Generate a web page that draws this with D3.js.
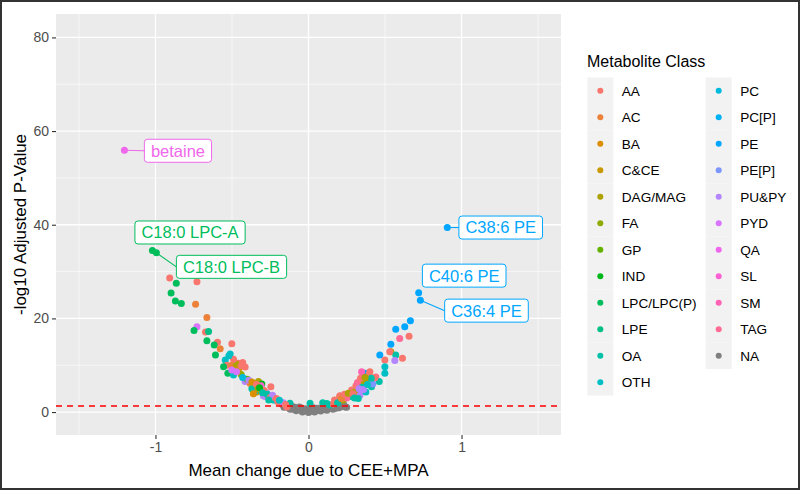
<!DOCTYPE html>
<html><head><meta charset="utf-8">
<script src="https://cdn.jsdelivr.net/npm/d3@7"></script>
<style>
body{margin:0;background:#fff}
text{font-family:"Liberation Sans",Arial,Helvetica,sans-serif}
</style>
</head><body>
<svg id="chart" width="800" height="490"></svg>
<script>
// ---------------- data ----------------
const classNames = ["AA","AC","BA","C&CE","DAG/MAG","FA","GP","IND","LPC/LPC(P)","LPE","OA","OTH",
  "PC","PC[P]","PE","PE[P]","PU&PY","PYD","QA","SL","SM","TAG","NA"];

const xTicks = [-1, 0, 1];
const yTicks = [0, 20, 40, 60, 80];
const significanceLine = 1.3; // -log10(0.05)

// unclassified (NA) metabolites near zero
const naPoints = [
  [-0.17,1.6],[-0.15,1.3],[-0.14,1.5],[-0.12,1.1],[-0.11,1.3],[-0.10,0.9],[-0.09,1.0],[-0.08,0.8],
  [-0.07,0.6],[-0.06,0.7],[-0.05,0.5],[-0.04,0.4],[-0.03,0.3],[-0.02,0.35],[-0.01,0.2],[0.00,0.15],
  [0.01,0.25],[0.02,0.3],[0.03,0.2],[0.04,0.4],[0.05,0.35],[0.06,0.5],[0.07,0.45],[0.08,0.6],
  [0.09,0.55],[0.10,0.7],[0.11,0.65],[0.12,0.8],[0.13,0.75],[0.14,0.9],[0.15,1.0],[0.16,0.95],
  [0.17,1.1],[0.18,1.2],[0.19,1.15],[0.20,1.3],[0.21,1.4],[0.22,1.2],[0.24,1.1],[0.249,1.0],
  [-0.13,0.9],[-0.05,0.9],[0.00,0.6],[0.05,0.8],[0.10,1.1],[-0.10,0.6],[0.03,0.9],[-0.02,0.7],
  [-0.16,1.0],[-0.12,0.6],[-0.08,0.3],[-0.04,0.0],[0.00,-0.1],[0.04,0.0],[0.08,0.2],[0.12,0.4],
  [0.16,0.6],[0.20,0.9],[0.23,1.6],[-0.06,1.1],[0.02,0.55],[0.07,0.8],[0.13,1.2],[0.18,0.8]
];

// classified metabolites: [mean change, -log10 adj p, class]
const metabolites = [
  [-0.907,28.6,"AA"],[-0.864,27.5,"LPC/LPC(P)"],[-0.729,27.8,"AA"],[-0.898,25.4,"LPC/LPC(P)"],
  [-0.870,23.7,"LPC/LPC(P)"],[-0.831,23.2,"LPC/LPC(P)"],[-0.738,23.0,"AC"],[-0.664,20.2,"AC"],
  [-0.729,18.2,"PYD"],[-0.748,17.4,"LPC/LPC(P)"],[-0.673,17.1,"AA"],[-0.653,17.2,"LPE"],
  [-0.664,15.2,"LPC/LPC(P)"],[-0.595,14.9,"AA"],[-0.616,14.3,"LPC/LPC(P)"],[-0.577,13.5,"AC"],
  [-0.501,14.6,"AA"],[-0.608,12.2,"LPC/LPC(P)"],[-0.512,12.4,"OTH"],[-0.544,11.1,"OTH"],
  [-0.533,10.0,"AA"],[-0.501,10.0,"AC"],[-0.468,9.6,"C&CE"],[-0.480,9.2,"C&CE"],
  [-0.414,9.6,"AA"],[-0.458,10.4,"AA"],[-0.555,9.7,"LPC/LPC(P)"],[-0.527,8.3,"LPC/LPC(P)"],
  [-0.490,7.9,"OTH"],[-0.501,9.0,"PYD"],[-0.414,6.5,"PU&PY"],[-0.381,6.1,"AC"],
  [-0.360,5.4,"AA"],[-0.327,6.5,"DAG/MAG"],[-0.305,6.0,"IND"],[-0.338,4.3,"BA"],
  [-0.295,3.5,"PU&PY"],[-0.272,4.0,"PU&PY"],[-0.246,5.4,"AA"],[-0.316,4.9,"OA"],
  [-0.370,5.0,"OA"],[-0.350,4.4,"OTH"],[-0.284,3.3,"PU&PY"],[-0.229,2.6,"OA"],
  [-0.218,2.6,"OTH"],[-0.200,2.2,"AA"],[-0.175,1.9,"AA"],[-0.164,2.0,"PU&PY"],
  [-0.121,1.9,"OA"],[-0.142,1.1,"AA"],[-0.260,3.0,"SM"],[-0.400,7.0,"GP"],
  [-0.440,8.0,"FA"],[-0.430,7.4,"PC"],[-0.310,5.6,"SL"],[0.010,1.9,"OA"],
  [-0.470,10.2,"DAG/MAG"],[-0.455,9.3,"C&CE"],[-0.440,9.9,"AA"],[-0.490,11.3,"AA"],
  [-0.520,12.0,"OTH"],[-0.470,8.6,"PYD"],[-0.430,10.6,"AA"],[-0.390,6.8,"PU&PY"],
  [-0.370,6.4,"BA"],[-0.340,5.9,"AA"],[-0.330,4.9,"DAG/MAG"],[-0.290,4.6,"AA"],
  [-0.270,3.8,"OA"],[-0.250,3.1,"AA"],[-0.235,3.6,"PU&PY"],[-0.210,2.9,"AA"],
  [-0.190,2.5,"OTH"],[-0.150,1.6,"AA"],[-0.320,5.2,"IND"],[-0.360,3.9,"BA"],
  [-0.300,4.1,"OA"],[-0.260,2.6,"OA"],
  [0.093,2.0,"OA"],[0.140,1.5,"OA"],[0.160,1.7,"AA"],[0.180,2.2,"AC"],
  [0.205,3.3,"AC"],[0.227,2.6,"DAG/MAG"],[0.205,3.5,"AA"],[0.271,3.3,"OA"],
  [0.250,3.0,"TAG"],[0.282,4.7,"AA"],[0.303,4.3,"DAG/MAG"],[0.336,3.6,"PU&PY"],
  [0.325,2.9,"OA"],[0.347,6.5,"DAG/MAG"],[0.357,7.9,"PU&PY"],[0.368,8.3,"PE"],
  [0.379,6.8,"DAG/MAG"],[0.401,8.6,"AA"],[0.412,5.4,"OA"],[0.375,4.3,"OTH"],
  [0.440,7.5,"TAG"],[0.462,6.5,"OA"],[0.347,8.6,"SM"],[0.434,7.3,"AA"],
  [0.390,7.6,"PC[P]"],[0.420,6.0,"PE[P]"],
  [0.120,1.8,"OA"],[0.170,2.6,"AA"],[0.190,2.0,"OA"],[0.215,2.9,"AC"],
  [0.235,3.8,"AA"],[0.260,4.0,"DAG/MAG"],[0.290,3.9,"AA"],[0.310,5.6,"AA"],
  [0.320,6.3,"TAG"],[0.340,7.2,"AA"],[0.350,5.3,"OA"],[0.360,4.8,"PU&PY"],
  [0.385,5.9,"OTH"],[0.395,8.0,"AA"],[0.410,7.2,"OA"],[0.370,7.4,"DAG/MAG"],
  [0.330,5.0,"PU&PY"],[0.300,3.0,"OA"],
  [0.466,12.2,"PE"],[0.499,11.1,"AA"],
  [0.499,9.7,"OTH"],[0.499,8.3,"OTH"],[0.538,14.5,"PE"],[0.538,12.9,"DAG/MAG"],
  [0.570,12.2,"OA"],[0.564,11.0,"PU&PY"],[0.614,11.5,"AA"],[0.531,12.9,"AA"],
  [0.570,17.7,"PE"],[0.596,15.7,"TAG"],[0.629,18.2,"PE"],[0.657,16.2,"AA"],
  [0.666,19.5,"PE"]
];

// labelled metabolites
const labelNames  = ["betaine","C18:0 LPC-A","C18:0 LPC-B","C38:6 PE","C40:6 PE","C36:4 PE"];
const labelX      = [-1.203, -1.020, -0.994, 0.907, 0.720, 0.731];
const labelY      = [55.9, 34.5, 34.0, 39.4, 25.5, 23.9];
const labelClass  = ["QA","LPC/LPC(P)","LPC/LPC(P)","PE","PE","PE"];

// ------------- layout (pixels) -------------
const W = 800, H = 490;
const panel = {left:56, right:561, top:14, bottom:435};
// label box placement: offset of box left edge / box centre from the point, whether a segment is drawn
const labelLayout = [
  {dx:20, dy:0.5, seg:true},
  {dx:-17.5, dy:-18, seg:false},
  {dx:20, dy:14, seg:true},
  {dx:11.6, dy:0, seg:true},
  {dx:3.7, dy:-17, seg:false},
  {dx:24.3, dy:10.5, seg:true}
];

// ggplot2 hue palette (polar LUV)
function hclHex(h, c, l){
  const WX=0.950456, WY=1.0, WZ=1.088754;
  const un = 4*WX/(WX+15*WY+3*WZ), vn = 9*WY/(WX+15*WY+3*WZ);
  const hr = h*Math.PI/180, U = c*Math.cos(hr), V = c*Math.sin(hr);
  const Y = WY*((l>7.999592)?Math.pow((l+16)/116,3):l/903.3);
  const u = U/(13*l)+un, v = V/(13*l)+vn;
  const X = 9*Y*u/(4*v), Z = -X/3 - 5*Y + 3*Y/v;
  const g = t => { t = t>0.00304 ? 1.055*Math.pow(t,1/2.4)-0.055 : 12.92*t; return Math.round(255*Math.max(0,Math.min(1,t))); };
  return d3.rgb(g(3.240479*X-1.537150*Y-0.498535*Z), g(-0.969256*X+1.875992*Y+0.041556*Z), g(0.055648*X-0.204043*Y+1.057311*Z)).formatHex();
}
const nCol = classNames.length - 1;
const palette = classNames.map((c,i) => c==="NA" ? "#7F7F7F" : hclHex(15 + i*360/nCol, 100, 65));
const color = d3.scaleOrdinal().domain(classNames).range(palette);

const x = d3.scaleLinear().domain([-1.65, 1.65]).range([panel.left, panel.right]);
const y = d3.scaleLinear().domain([-4.9, 85]).range([panel.bottom, panel.top]);

const svg = d3.select("#chart");
svg.append("rect").attr("width",W).attr("height",H).attr("fill","#fff");

// panel
svg.append("rect").attr("x",panel.left).attr("y",panel.top)
  .attr("width",panel.right-panel.left).attr("height",panel.bottom-panel.top).attr("fill","#EBEBEB");

const xMinor = [-1.5,-0.5,0.5,1.5], yMinor = [10,30,50,70];
const grid = svg.append("g");
grid.selectAll(".xm").data(xMinor).join("line").attr("x1",d=>x(d)).attr("x2",d=>x(d))
  .attr("y1",panel.top).attr("y2",panel.bottom).attr("stroke","#fff").attr("stroke-width",0.6);
grid.selectAll(".ym").data(yMinor).join("line").attr("y1",d=>y(d)).attr("y2",d=>y(d))
  .attr("x1",panel.left).attr("x2",panel.right).attr("stroke","#fff").attr("stroke-width",0.6);
grid.selectAll(".xM").data(xTicks).join("line").attr("x1",d=>x(d)).attr("x2",d=>x(d))
  .attr("y1",panel.top).attr("y2",panel.bottom).attr("stroke","#fff").attr("stroke-width",1.3);
grid.selectAll(".yM").data(yTicks).join("line").attr("y1",d=>y(d)).attr("y2",d=>y(d))
  .attr("x1",panel.left).attr("x2",panel.right).attr("stroke","#fff").attr("stroke-width",1.3);

// points
const R = 3.5;
svg.append("g").selectAll("circle").data(naPoints).join("circle")
  .attr("cx",d=>x(d[0])).attr("cy",d=>y(d[1])).attr("r",R).attr("fill",color("NA"));
svg.append("g").selectAll("circle").data(metabolites).join("circle")
  .attr("cx",d=>x(d[0])).attr("cy",d=>y(d[1])).attr("r",R).attr("fill",d=>color(d[2]));

// significance line
svg.append("line").attr("x1",panel.left).attr("x2",panel.right)
  .attr("y1",y(significanceLine)).attr("y2",y(significanceLine))
  .attr("stroke","#FF0000").attr("stroke-width",1.4).attr("stroke-dasharray","6,5");

// labelled points + boxes
const lab = svg.append("g");
labelNames.forEach((name,i)=>{
  const px = x(labelX[i]), py = y(labelY[i]), col = color(labelClass[i]);
  const L = labelLayout[i];
  const bx = px + L.dx, cy = py + L.dy;
  const g = lab.append("g");
  const t = g.append("text").attr("x",bx+6.5).attr("y",cy).attr("dy","0.36em")
    .attr("font-size","16.5px").attr("fill",col).text(name);
  const w = t.node().getComputedTextLength();
  if (L.seg) {
    g.insert("line","text").attr("x1",px).attr("y1",py).attr("x2",bx).attr("y2",cy)
      .attr("stroke",col).attr("stroke-width",1.1);
  }
  g.insert("rect","text").attr("x",bx).attr("y",cy-11.5).attr("width",w+13).attr("height",23)
    .attr("rx",3).attr("fill","#fff").attr("stroke",col).attr("stroke-width",1);
  lab.append("circle").attr("cx",px).attr("cy",py).attr("r",R).attr("fill",col);
});

// axes
const xAxis = svg.append("g").attr("transform",`translate(0,${panel.bottom})`)
  .call(d3.axisBottom(x).tickValues(xTicks).tickFormat(d=>String(d)).tickSize(4).tickPadding(3));
const yAxis = svg.append("g").attr("transform",`translate(${panel.left},0)`)
  .call(d3.axisLeft(y).tickValues(yTicks).tickFormat(d=>String(d)).tickSize(4).tickPadding(3));
[xAxis,yAxis].forEach(a=>{
  a.select(".domain").remove();
  a.selectAll(".tick line").attr("stroke","#333").attr("stroke-width",1.1);
  a.selectAll(".tick text").attr("fill","#4D4D4D").attr("font-size","14px")
    .attr("font-family",'"Liberation Sans",Arial,sans-serif');
});

svg.append("text").attr("x",(panel.left+panel.right)/2).attr("y",476).attr("text-anchor","middle")
  .attr("font-size","17px").attr("fill","#000").text("Mean change due to CEE+MPA");
svg.append("text").attr("transform",`translate(26,${(panel.top+panel.bottom)/2}) rotate(-90)`)
  .attr("text-anchor","middle").attr("font-size","17px").attr("fill","#000").text("-log10 Adjusted P-Value");

// legend
const leg = svg.append("g");
leg.append("text").attr("x",587).attr("y",67).attr("font-size","16px").attr("fill","#000").text("Metabolite Class");
const perCol = 12, keyH = 26.5, keyW = 26;
const colX = [587.3, 705.7];
classNames.forEach((c,i)=>{
  const col = Math.floor(i/perCol), row = i%perCol;
  const kx = colX[col], ky = 77.5 + row*keyH;
  leg.append("rect").attr("x",kx).attr("y",ky).attr("width",keyW).attr("height",keyH).attr("fill","#F2F2F2");
  leg.append("circle").attr("cx",kx+keyW/2).attr("cy",ky+keyH/2).attr("r",3).attr("fill",color(c));
  leg.append("text").attr("x",kx+keyW+8.5).attr("y",ky+keyH/2).attr("dy","0.36em")
    .attr("font-size","13.6px").attr("fill","#000").text(c);
});

// outer frame
svg.append("rect").attr("x",1).attr("y",1).attr("width",W-2).attr("height",H-2)
  .attr("fill","none").attr("stroke","#333").attr("stroke-width",2);
</script>
</body></html>
